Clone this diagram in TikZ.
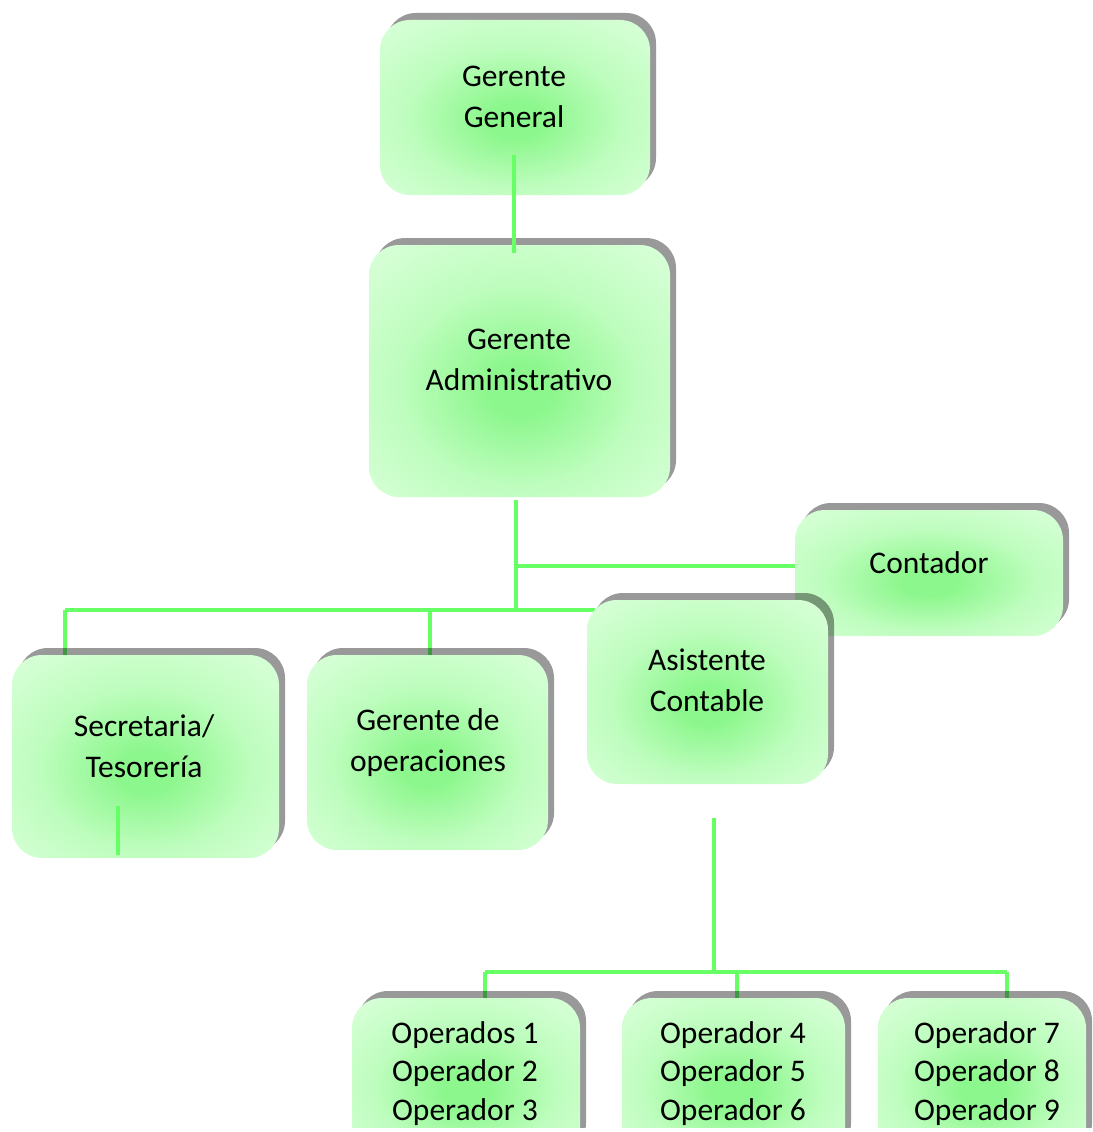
\documentclass[tikz,border=0pt]{standalone}
\usepackage{fontspec}
\setmainfont{Carlito}
\usetikzlibrary{shadows}
\definecolor{gin}{RGB}{140,247,140}
\definecolor{gmid}{RGB}{190,253,190}
\definecolor{gout}{RGB}{212,255,212}
\definecolor{gedge}{RGB}{222,255,222}
\definecolor{linegreen}{RGB}{102,255,102}
\pgfdeclareradialshading{boxglow}{\pgfpoint{0bp}{-4bp}}{color(0bp)=(gin); color(5bp)=(gin); color(20bp)=(gmid); color(33bp)=(gout); color(50bp)=(gedge); color(70bp)=(gedge)}
\tikzset{
  orgbox/.style={rectangle, rounded corners=30pt, inner sep=0pt, shading=boxglow,
    general shadow={fill=black, opacity=0.4, shadow xshift=6pt, shadow yshift=7pt}},
  orgtext/.style={align=center, inner sep=0pt, font=\fontsize{31.5}{41}\selectfont},
  optext/.style={align=center, inner sep=0pt, font=\fontsize{31.5}{38.5}\selectfont},
  conn/.style={draw=linegreen, line width=4pt}
}
\begin{document}
\begin{tikzpicture}[x=1pt,y=-1pt]
\useasboundingbox (0,0) rectangle (1092,1132);
\clip (0,0) rectangle (1092,1127);
% coordinates for connector junctions
\coordinate (gaout) at (516,500);
\coordinate (j1) at (516,566);
\coordinate (j2) at (516,610);
\coordinate (hl) at (65,610);
\coordinate (hm) at (430,610);
\coordinate (hr) at (595,610);
\coordinate (contin) at (800,566);
\coordinate (acout) at (714,818);
\coordinate (j3) at (714,972);
\coordinate (b1) at (485,972);
\coordinate (b2) at (737,972);
\coordinate (b3) at (1007,972);
\coordinate (ggout) at (514,155);
\coordinate (gain) at (514,253);
\coordinate (secs) at (118,806);
\coordinate (sece) at (118,855);
% connectors below the boxes
\draw[conn] (gaout) -- (j2);
\draw[conn] (j1) -- (contin);
\draw[conn] (hl) -- (hr);
\draw[conn] (hl) -- (65,657);
\draw[conn] (hm) -- (430,657);
\draw[conn] (acout) -- (j3);
\draw[conn] (b1) -- (b3);
\draw[conn] (b1) -- (485,1000);
\draw[conn] (b2) -- (737,1000);
\draw[conn] (b3) -- (1007,1000);
% boxes
\node[orgbox, minimum width=270pt, minimum height=175pt] (gg) at (515,107.5) {};
\node[orgbox, minimum width=301pt, minimum height=252pt] (ga) at (519.5,371) {};
\node[orgbox, minimum width=268pt, minimum height=126pt] (cont) at (929,573) {};
\node[orgbox, minimum width=267pt, minimum height=203pt] (sec) at (145.5,756.5) {};
\node[orgbox, minimum width=241pt, minimum height=195pt] (go) at (427.5,752.5) {};
\node[orgbox, minimum width=241pt, minimum height=184pt] (ac) at (707.5,692) {};
\node[orgbox, minimum width=228pt, minimum height=162pt] (op1) at (466,1079) {};
\node[orgbox, minimum width=223pt, minimum height=162pt] (op2) at (733.5,1079) {};
\node[orgbox, minimum width=208pt, minimum height=162pt] (op3) at (982,1079) {};
% connectors above the boxes
\draw[conn] (ggout) -- (gain);
\draw[conn] (secs) -- (sece);
% texts
\node[orgtext] (ggt) at (514,97) {Gerente\\General};
\node[orgtext] (gat) at (519,360) {Gerente\\Administrativo};
\node[orgtext] (contt) at (929,562.5) {Contador};
\node[orgtext] (sect) at (144,746.5) {Secretaria/\\Tesorería};
\node[orgtext] (got) at (428,743) {Gerente de\\operaciones};
\node[orgtext] (act) at (707,680) {Asistente\\Contable};
\node[optext] (op1t) at (465,1073.5) {Operados 1\\Operador 2\\Operador 3};
\node[optext] (op2t) at (733,1073.5) {Operador 4\\Operador 5\\Operador 6};
\node[optext] (op3t) at (987,1073.5) {Operador 7\\Operador 8\\Operador 9};
\end{tikzpicture}
\end{document}
